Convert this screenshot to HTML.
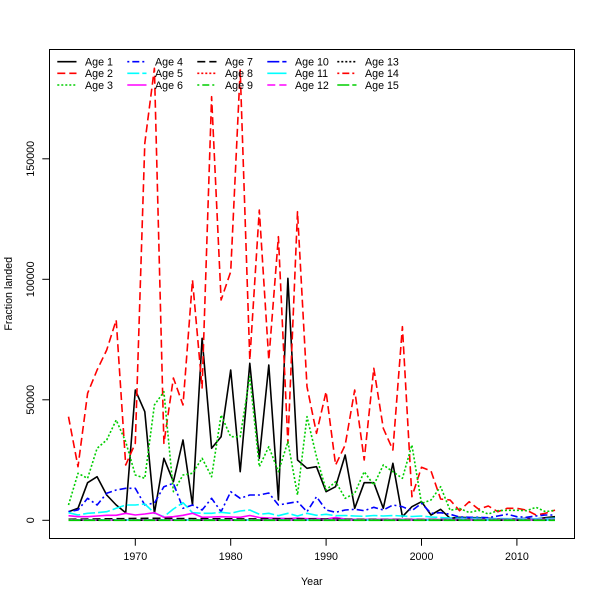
<!DOCTYPE html>
<html>
<head>
<meta charset="utf-8">
<style>
  html,body{margin:0;padding:0;background:#fff;}
  svg{display:block;}
  text{font-family:"Liberation Sans","DejaVu Sans",sans-serif;font-size:10.7px;fill:#000;}
</style>
</head>
<body>
<svg width="600" height="600" viewBox="0 0 600 600" xmlns="http://www.w3.org/2000/svg">
  <rect x="0" y="0" width="600" height="600" fill="#fff"/>

  <!-- data series -->
  <g fill="none" stroke-width="1.6" stroke-linejoin="round">
    <!-- Age 1 -->
    <polyline stroke="#000000" points="68.5,511.7 78.0,508.3 87.6,482.7 97.1,476.7 106.7,495 116.2,505 125.7,512.7 135.3,390 144.8,411.7 154.4,513.3 163.9,458.3 173.4,481.7 183.0,440 192.5,505 202.1,338.3 211.6,448.3 221.1,436.7 230.7,370 240.2,471.7 249.8,363.3 259.3,458.3 268.8,365 278.4,500 287.9,278.3 297.5,460 307.0,468.3 316.5,466.7 326.1,491.7 335.6,486.7 345.2,455 354.7,508.3 364.2,482.7 373.8,482.7 383.3,508.3 392.9,463.3 402.4,516.7 411.9,506.7 421.5,501.7 431.0,515 440.6,509.3 450.1,518.3 459.6,517.3 469.2,517.7 478.7,517.7 488.3,518.3 497.8,519 507.3,519 516.9,519 526.4,518.3 536.0,519 545.5,517.7 555.0,516.7"/>
    <!-- Age 2 -->
    <polyline stroke="#ff0000" stroke-dasharray="8,4" points="68.5,416.7 78.0,466.7 87.6,393.3 97.1,370 106.7,350 116.2,320 125.7,465 135.3,443.3 144.8,143.3 154.4,68.3 163.9,443.3 173.4,378 183.0,405 192.5,280 202.1,388 211.6,96.7 221.1,300 230.7,271.7 240.2,70 249.8,360 259.3,210 268.8,360 278.4,236.7 287.9,443.3 297.5,211.7 307.0,386.7 316.5,433.3 326.1,391.7 335.6,465 345.2,445 354.7,390 364.2,460 373.8,368.3 383.3,428.3 392.9,450 402.4,326.7 411.9,496.7 421.5,467.3 431.0,470.9 440.6,499 450.1,500 459.6,510.7 469.2,501.7 478.7,509.3 488.3,506 497.8,511.7 507.3,508.3 516.9,508.3 526.4,510.1 536.0,515 545.5,513.3 555.0,510.1"/>
    <!-- Age 3 -->
    <polyline stroke="#00cd00" stroke-dasharray="2,2" points="68.5,505 78.0,473.3 87.6,478.3 97.1,448.3 106.7,440 116.2,420 125.7,441.7 135.3,475 144.8,478.3 154.4,405 163.9,391.7 173.4,491.7 183.0,475 192.5,473.3 202.1,458.3 211.6,476.7 221.1,415 230.7,436.7 240.2,436.7 249.8,376.7 259.3,466.7 268.8,446.7 278.4,471.7 287.9,441.7 297.5,495 307.0,416.7 316.5,456.7 326.1,490 335.6,481.7 345.2,498.3 354.7,493.3 364.2,471.7 373.8,485 383.3,465 392.9,471.7 402.4,478.3 411.9,445 421.5,503.5 431.0,500 440.6,486.7 450.1,510.3 459.6,508.5 469.2,512.5 478.7,510.3 488.3,514 497.8,510.7 507.3,510.3 516.9,510.3 526.4,510.7 536.0,507.3 545.5,511.7 555.0,510.3"/>
    <!-- Age 4 -->
    <polyline stroke="#0000ff" stroke-dasharray="2,3,7,3" points="68.5,511.7 78.0,510 87.6,498.3 97.1,505 106.7,493.3 116.2,490 125.7,488.3 135.3,488.3 144.8,505 154.4,503 163.9,486.7 173.4,483.3 183.0,508.3 192.5,505 202.1,510 211.6,498.3 221.1,511.7 230.7,491.7 240.2,498.3 249.8,495 259.3,495 268.8,493 278.4,505 287.9,503.3 297.5,501.7 307.0,511.7 316.5,496.7 326.1,510 335.6,512.3 345.2,510 354.7,509.3 364.2,510.7 373.8,507.3 383.3,510 392.9,505 402.4,506.7 411.9,510.7 421.5,503.3 431.0,513.3 440.6,512.7 450.1,514.3 459.6,517 469.2,517.3 478.7,517.3 488.3,517.7 497.8,516 507.3,514.3 516.9,516.7 526.4,517.3 536.0,516 545.5,515 555.0,515"/>
    <!-- Age 5 -->
    <polyline stroke="#00ffff" stroke-dasharray="12,3" points="68.5,512.7 78.0,515 87.6,513.3 97.1,512.7 106.7,511.7 116.2,508.3 125.7,505 135.3,505 144.8,504 154.4,513 163.9,516.7 173.4,509 183.0,502.7 192.5,512.7 202.1,513.3 211.6,513.3 221.1,512.3 230.7,513.3 240.2,511 249.8,510 259.3,514.3 268.8,513.3 278.4,515.7 287.9,513.3 297.5,516 307.0,513.3 316.5,515.3 326.1,514.3 335.6,515.7 345.2,515.5 354.7,516 364.2,516.3 373.8,515.5 383.3,516 392.9,515.5 402.4,516 411.9,516.5 421.5,516 431.0,517 440.6,517.5 450.1,518 459.6,518.3 469.2,518.5 478.7,518.3 488.3,518.8 497.8,518.5 507.3,518.7 516.9,518.5 526.4,518.8 536.0,518.7 545.5,518.5 555.0,518.3"/>
    <!-- Age 6 -->
    <polyline stroke="#ff00ff" points="68.5,515.7 78.0,516.7 87.6,516.7 97.1,516 106.7,515.3 116.2,515.3 125.7,513.3 135.3,515 144.8,514 154.4,512.7 163.9,517.3 173.4,516.7 183.0,515.3 192.5,513.3 202.1,517.3 211.6,517 221.1,516.7 230.7,517 240.2,517.3 249.8,515.5 259.3,517.5 268.8,518 278.4,518.3 287.9,518.5 297.5,518 307.0,518.7 316.5,518.5 326.1,519 335.6,517.5 345.2,519 354.7,519.3 402.4,519.3 440.6,519.4 555.0,519.4"/>
    <!-- Age 7 -->
    <polyline stroke="#000000" stroke-dasharray="8,4" points="68.5,519.3 125.7,518.6 154.4,518.3 211.6,518.8 287.9,519 380,519.5 555,519.8"/>
    <!-- Age 8 -->
    <polyline stroke="#ff0000" stroke-dasharray="2,2" points="68.5,520 555,520"/>
    <!-- Age 9 -->
    <polyline stroke="#00cd00" stroke-dasharray="2,3,7,3" points="68.5,520 555,520"/>
    <!-- Age 10 -->
    <polyline stroke="#0000ff" stroke-dasharray="12,3" points="68.5,520 555,520"/>
    <!-- Age 11 -->
    <polyline stroke="#00ffff" points="68.5,519.9 555,519.9"/>
    <!-- Age 12 -->
    <polyline stroke="#ff00ff" stroke-dasharray="8,4" points="68.5,520 555,520"/>
    <!-- Age 13 -->
    <polyline stroke="#000000" stroke-dasharray="2,2" points="68.5,520.2 555,520.2"/>
    <!-- Age 14 -->
    <polyline stroke="#ff0000" stroke-dasharray="2,3,7,3" points="68.5,520.2 555,520.2"/>
    <!-- Age 15 -->
    <polyline stroke="#00cd00" stroke-dasharray="12,3" points="68.5,520.3 555,520.3"/>
  </g>

  <!-- box -->
  <rect x="49.5" y="49.5" width="525" height="489" fill="none" stroke="#000" stroke-width="1"/>

  <!-- ticks -->
  <g stroke="#000" stroke-width="1">
    <line x1="135.3" y1="538.5" x2="135.3" y2="545.7"/>
    <line x1="230.7" y1="538.5" x2="230.7" y2="545.7"/>
    <line x1="326.1" y1="538.5" x2="326.1" y2="545.7"/>
    <line x1="421.5" y1="538.5" x2="421.5" y2="545.7"/>
    <line x1="516.9" y1="538.5" x2="516.9" y2="545.7"/>
    <line x1="49.5" y1="520.3" x2="42.3" y2="520.3"/>
    <line x1="49.5" y1="399.8" x2="42.3" y2="399.8"/>
    <line x1="49.5" y1="279.3" x2="42.3" y2="279.3"/>
    <line x1="49.5" y1="158.8" x2="42.3" y2="158.8"/>
  </g>

  <!-- x tick labels -->
  <g text-anchor="middle">
    <text x="135.3" y="560">1970</text>
    <text x="230.7" y="560">1980</text>
    <text x="326.1" y="560">1990</text>
    <text x="421.5" y="560">2000</text>
    <text x="516.9" y="560">2010</text>
    <text x="311.8" y="585">Year</text>
  </g>

  <!-- y tick labels -->
  <g text-anchor="middle">
    <text transform="translate(34,520.3) rotate(-90)">0</text>
    <text transform="translate(34,399.8) rotate(-90)">50000</text>
    <text transform="translate(34,279.3) rotate(-90)">100000</text>
    <text transform="translate(34,158.8) rotate(-90)">150000</text>
    <text transform="translate(12,293.8) rotate(-90)">Fraction landed</text>
  </g>

  <!-- legend -->
  <g fill="none" stroke-width="1.6">
    <line x1="57.3" y1="61.7" x2="76.5" y2="61.7" stroke="#000000"/>
    <line x1="57.3" y1="73.3" x2="76.5" y2="73.3" stroke="#ff0000" stroke-dasharray="8,4"/>
    <line x1="57.3" y1="85" x2="76.5" y2="85" stroke="#00cd00" stroke-dasharray="2,2"/>

    <line x1="127.3" y1="61.7" x2="146.5" y2="61.7" stroke="#0000ff" stroke-dasharray="2,3,7,3"/>
    <line x1="127.3" y1="73.3" x2="146.5" y2="73.3" stroke="#00ffff" stroke-dasharray="12,3"/>
    <line x1="127.3" y1="85" x2="146.5" y2="85" stroke="#ff00ff"/>

    <line x1="197.3" y1="61.7" x2="216.5" y2="61.7" stroke="#000000" stroke-dasharray="8,4"/>
    <line x1="197.3" y1="73.3" x2="216.5" y2="73.3" stroke="#ff0000" stroke-dasharray="2,2"/>
    <line x1="197.3" y1="85" x2="216.5" y2="85" stroke="#00cd00" stroke-dasharray="2,3,7,3"/>

    <line x1="267.3" y1="61.7" x2="286.5" y2="61.7" stroke="#0000ff" stroke-dasharray="12,3"/>
    <line x1="267.3" y1="73.3" x2="286.5" y2="73.3" stroke="#00ffff"/>
    <line x1="267.3" y1="85" x2="286.5" y2="85" stroke="#ff00ff" stroke-dasharray="8,4"/>

    <line x1="337.3" y1="61.7" x2="356.5" y2="61.7" stroke="#000000" stroke-dasharray="2,2"/>
    <line x1="337.3" y1="73.3" x2="356.5" y2="73.3" stroke="#ff0000" stroke-dasharray="2,3,7,3"/>
    <line x1="337.3" y1="85" x2="356.5" y2="85" stroke="#00cd00" stroke-dasharray="12,3"/>
  </g>
  <g>
    <text x="85" y="65.5">Age 1</text>
    <text x="85" y="77.1">Age 2</text>
    <text x="85" y="88.8">Age 3</text>
    <text x="155" y="65.5">Age 4</text>
    <text x="155" y="77.1">Age 5</text>
    <text x="155" y="88.8">Age 6</text>
    <text x="225" y="65.5">Age 7</text>
    <text x="225" y="77.1">Age 8</text>
    <text x="225" y="88.8">Age 9</text>
    <text x="295" y="65.5">Age 10</text>
    <text x="295" y="77.1">Age 11</text>
    <text x="295" y="88.8">Age 12</text>
    <text x="365" y="65.5">Age 13</text>
    <text x="365" y="77.1">Age 14</text>
    <text x="365" y="88.8">Age 15</text>
  </g>
</svg>
</body>
</html>
